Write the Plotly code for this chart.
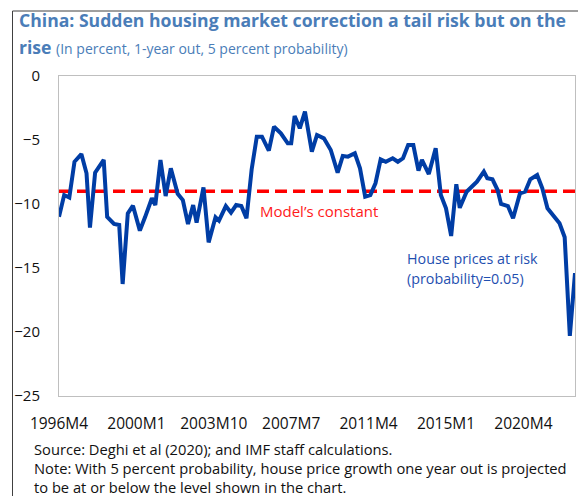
import plotly.graph_objects as go

# Data (month index from 1996M4, value in percent)
months = [0, 3, 6, 9, 13, 16, 18, 21, 26, 28, 32, 35, 37, 40, 43, 47, 50, 54, 56, 59,
          62, 65, 69, 72, 75, 78, 80, 84, 87, 91, 93, 97, 100, 103, 106, 109, 112, 115, 118, 122,
          125, 129, 133, 135, 137, 140, 143, 147, 150, 154, 158, 162, 165, 168, 172, 175, 178, 181, 184, 187,
          190, 194, 197, 200, 203, 206, 209, 211, 215, 219, 222, 225, 228, 231, 233, 237, 241, 243, 247, 249,
          252, 255, 257, 261, 264, 268, 271, 274, 278, 281, 284, 287, 291, 294, 297, 300]
hpar = [-11.0, -9.3, -9.5, -6.7, -6.1, -7.6, -11.85, -7.55, -6.56, -11.0, -11.56, -11.64, -16.25, -10.73, -10.13, -12.08, -11.04, -9.55, -10.08, -6.56,
        -9.38, -7.21, -9.2, -9.69, -11.56, -10.08, -11.46, -8.7, -13.0, -11.04, -11.3, -10.16, -10.68, -10.08, -10.16, -11.12, -7.3, -4.74, -4.74, -5.83,
        -3.96, -4.48, -5.26, -5.26, -3.13, -4.09, -2.79, -5.91, -4.61, -4.87, -5.78, -7.55, -6.25, -6.3, -6.04, -7.21, -9.43, -9.3, -8.38, -6.51,
        -6.7, -6.43, -6.7, -6.43, -5.39, -5.39, -7.4, -6.56, -7.66, -5.65, -9.3, -10.34, -12.5, -8.46, -10.3, -9.04, -8.52, -8.26, -7.47, -7.99,
        -8.07, -8.91, -10.0, -10.16, -11.12, -9.17, -9.04, -8.07, -7.73, -8.77, -10.34, -10.86, -11.51, -12.6, -20.3, -15.4]
model_constant = -9.0

tick_pos = [0, 45, 90, 135, 180, 225, 270]
tick_labels = ["1996M4", "2000M1", "2003M10", "2007M7", "2011M4", "2015M1", "2020M4"]
y_ticks = [0, -5, -10, -15, -20, -25]

W, H = 578, 496
L, R, T, B = 59, 575, 76, 396  # plot area in page pixels
FONT = "Open Sans"


def xp(px):
    return (px - L) / (R - L)


def yp(py):
    return (B - py) / (B - T)


fig = go.Figure()
fig.add_trace(go.Scatter(x=[months[0], months[-1]], y=[model_constant, model_constant],
                         mode="lines", line=dict(color="#FF0000", width=3.6, dash="12px,6px"),
                         hoverinfo="skip", showlegend=False))
fig.add_trace(go.Scatter(x=months, y=hpar, mode="lines",
                         line=dict(color="#003DA5", width=4), showlegend=False))

annotations = [
    dict(x=xp(17), y=yp(20), text="<b>China: Sudden housing market correction a tail risk but on the</b>",
         font=dict(size=17.6, color="#4A7DB8", family=FONT)),
    dict(x=xp(17), y=yp(47),
         text="<b>rise</b> <span style='font-size:14px'>(In percent, 1-year out, 5 percent probability)</span>",
         font=dict(size=17.6, color="#4A7DB8", family=FONT)),
    dict(x=xp(258), y=yp(211), text="Model\u2019s constant",
         font=dict(size=15, color="#FF1A1A", family=FONT)),
    dict(x=xp(405), y=yp(258), text="House prices at risk",
         font=dict(size=14.3, color="#1F4FB0", family=FONT)),
    dict(x=xp(405), y=yp(278), text="(probability=0.05)",
         font=dict(size=14.3, color="#1F4FB0", family=FONT)),
    dict(x=xp(32), y=yp(449), text="Source: Deghi et al (2020); and IMF staff calculations.",
         font=dict(size=14.7, color="#111111", family=FONT)),
    dict(x=xp(32), y=yp(468),
         text="Note: With 5 percent probability, house price growth one year out is projected",
         font=dict(size=14.7, color="#111111", family=FONT)),
    dict(x=xp(32), y=yp(487), text="to be at or below the level shown in the chart.",
         font=dict(size=14.7, color="#111111", family=FONT)),
]
for a in annotations:
    a.update(xref="paper", yref="paper", xanchor="left", yanchor="middle", showarrow=False)

shapes = [
    dict(type="line", xref="paper", yref="paper", x0=xp(12.5), x1=xp(12.5), y0=yp(11), y1=yp(500),
         line=dict(color="#404040", width=1)),
    dict(type="line", xref="paper", yref="paper", x0=xp(12.5), x1=xp(580), y0=yp(11), y1=yp(11),
         line=dict(color="#404040", width=1)),
]

fig.update_layout(
    width=W, height=H,
    margin=dict(l=L, r=W - R, t=T, b=H - B),
    paper_bgcolor="white", plot_bgcolor="white",
    font=dict(family=FONT, size=14, color="#111111"),
    annotations=annotations, shapes=shapes,
    xaxis=dict(range=[0, 300], tickvals=tick_pos, ticktext=tick_labels, showgrid=False,
               zeroline=False, showline=True, mirror=True, linecolor="#BFBFBF", linewidth=1,
               ticks="", ticklabelstandoff=13, tickfont=dict(size=15.5, color="#111111")),
    yaxis=dict(range=[-25, 0], tickvals=y_ticks, showgrid=False, zeroline=False,
               showline=True, mirror=True, linecolor="#BFBFBF", linewidth=1,
               ticks="", ticklabelstandoff=15, tickfont=dict(size=15, color="#111111")),
)

post = ("document.documentElement.style.margin='0';document.documentElement.style.overflow='hidden';"
        "document.body.style.margin='0';document.body.style.padding='0';document.body.style.overflow='hidden';")
fig.write_html("out.html", post_script=post, config={"displayModeBar": False})
